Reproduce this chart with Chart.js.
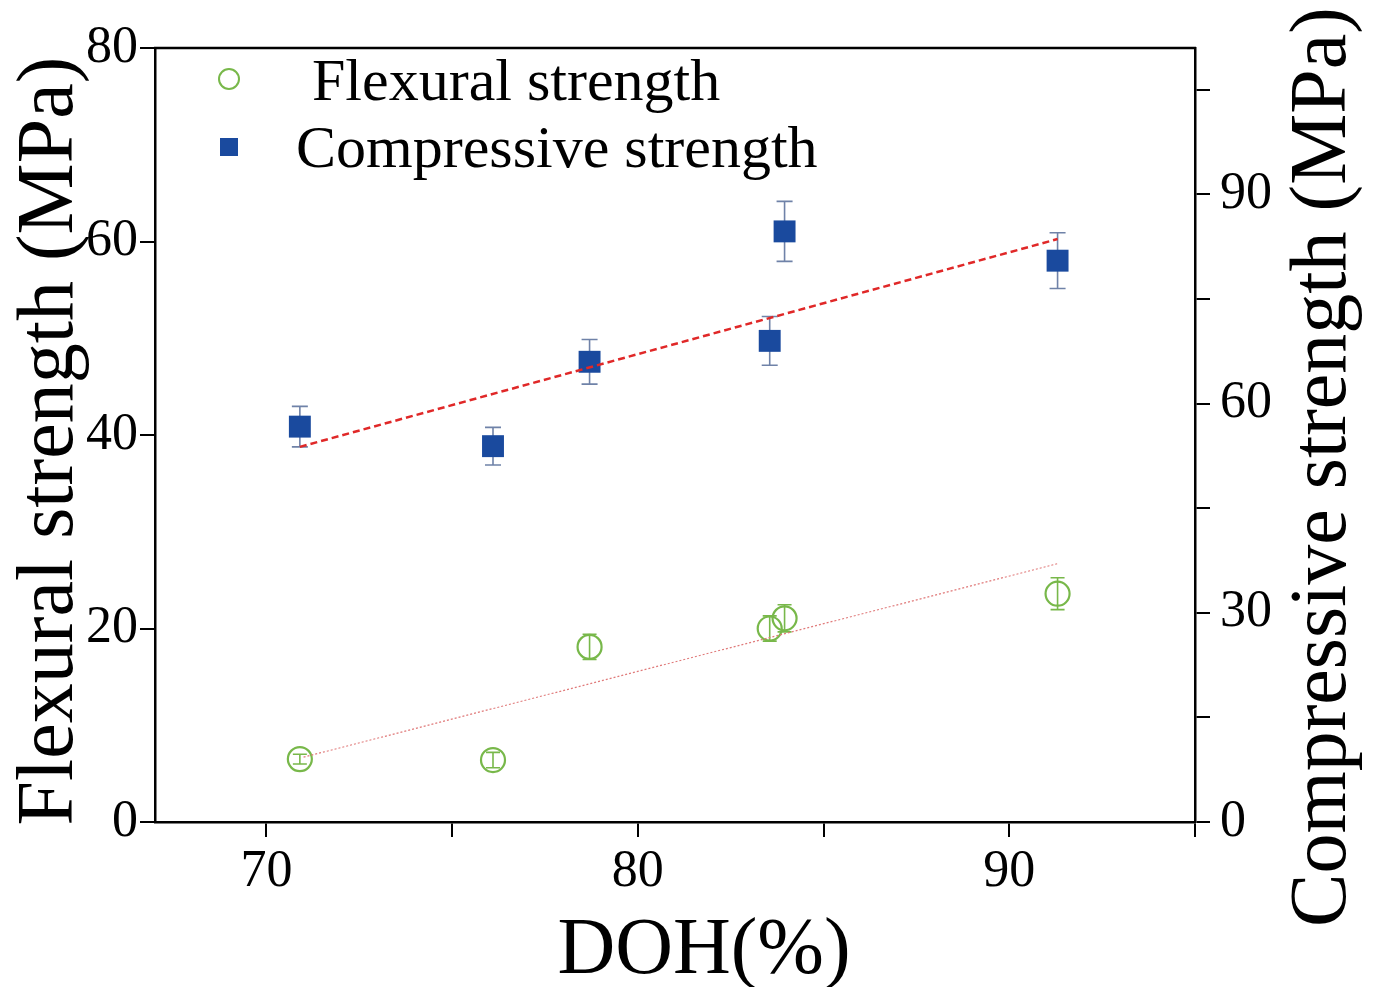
<!DOCTYPE html>
<html>
<head>
<meta charset="utf-8">
<script src="https://cdn.jsdelivr.net/npm/chart.js@4.4.1/dist/chart.umd.min.js"></script>
<style>
  body { margin: 0; background: #fff; }
  canvas { display: block; }
</style>
</head>
<body>
<canvas id="doh" width="1373" height="987"></canvas>
<script>
// -------------------- Data --------------------
const doh = [70.9, 76.1, 78.7, 83.55, 83.95, 91.3];
const flexural = [6.5, 6.4, 18.1, 20.0, 21.05, 23.6];
const flexuralErr = [0.5, 0.8, 1.3, 1.3, 1.4, 1.65];
const compressive = [56.7, 53.9, 66.0, 69.0, 84.7, 80.5];
const compressiveErr = [2.9, 2.7, 3.2, 3.5, 4.3, 4.0];

const flexFitX = [71.0, 91.3];
const flexFitY = [6.7, 26.7];
const compFitX = [70.9, 91.3];
const compFitY = [53.8, 83.6];

const xTicks = [70, 80, 90];
const leftTicks = [0, 20, 40, 60, 80];
const rightTicks = [0, 30, 60, 90];

const GREEN = '#78b84a';
const BLUE = '#1a4a9e';
const FONT = "'Liberation Serif', 'Times New Roman', serif";

const pts = (xs, ys) => xs.map((x, i) => ({ x, y: ys[i] }));

// -------------------- Plugins --------------------
const errorBars = {
  id: 'errorBars',
  beforeDatasetsDraw(chart) {
    const ctx = chart.ctx;
    const x = chart.scales.x;
    const sets = [
      { ys: flexural, err: flexuralErr, scale: chart.scales.y, color: GREEN, cap: 7 },
      { ys: compressive, err: compressiveErr, scale: chart.scales.y1, color: '#6f82a8', cap: 8 }
    ];
    ctx.save();
    ctx.lineWidth = 1.6;
    sets.forEach(s => {
      ctx.strokeStyle = s.color;
      doh.forEach((d, i) => {
        const px = x.getPixelForValue(d);
        const top = s.scale.getPixelForValue(s.ys[i] + s.err[i]);
        const bot = s.scale.getPixelForValue(s.ys[i] - s.err[i]);
        ctx.beginPath();
        ctx.moveTo(px, top); ctx.lineTo(px, bot);
        ctx.moveTo(px - s.cap, top); ctx.lineTo(px + s.cap, top);
        ctx.moveTo(px - s.cap, bot); ctx.lineTo(px + s.cap, bot);
        ctx.stroke();
      });
    });
    ctx.restore();
  }
};

const decorations = {
  id: 'decorations',
  afterDraw(chart) {
    const ctx = chart.ctx;
    const a = chart.chartArea;
    ctx.save();
    // top frame
    ctx.strokeStyle = '#000';
    ctx.lineWidth = 2.5;
    ctx.beginPath();
    ctx.moveTo(a.left - 1, a.top);
    ctx.lineTo(a.right + 1, a.top);
    ctx.stroke();

    // axis titles
    ctx.fillStyle = '#000';
    ctx.font = `80px ${FONT}`;
    ctx.textAlign = 'center';
    ctx.textBaseline = 'alphabetic';
    ctx.fillText('DOH(%)', 704, 973);

    ctx.save();
    ctx.translate(72, 441);
    ctx.rotate(-Math.PI / 2);
    ctx.fillText('Flexural strength (MPa)', 0, 0);
    ctx.restore();

    ctx.save();
    ctx.translate(1345, 467);
    ctx.rotate(-Math.PI / 2);
    ctx.fillText('Compressive strength (MPa)', 0, 0);
    ctx.restore();

    // legend
    ctx.font = `60px ${FONT}`;
    ctx.textAlign = 'left';
    ctx.strokeStyle = GREEN;
    ctx.lineWidth = 2;
    ctx.beginPath();
    ctx.arc(229, 79, 10, 0, Math.PI * 2);
    ctx.stroke();
    ctx.fillText('Flexural strength', 312, 100);

    ctx.fillStyle = BLUE;
    ctx.fillRect(220, 138, 18, 18);
    ctx.fillStyle = '#000';
    ctx.fillText('Compressive strength', 296, 167);
    ctx.restore();
  }
};

// -------------------- Chart --------------------
const tickFont = { family: FONT, size: 52 };

new Chart(document.getElementById('doh'), {
  type: 'scatter',
  data: {
    datasets: [
      {
        label: 'Flexural fit',
        data: pts(flexFitX, flexFitY),
        yAxisID: 'y',
        showLine: true,
        borderColor: '#e07a7a',
        borderWidth: 1.2,
        borderDash: [2, 2],
        pointRadius: 0
      },
      {
        label: 'Compressive fit',
        data: pts(compFitX, compFitY),
        yAxisID: 'y1',
        showLine: true,
        borderColor: '#e02828',
        borderWidth: 2.5,
        borderDash: [7, 4],
        pointRadius: 0
      },
      {
        label: 'Flexural strength',
        data: pts(doh, flexural),
        yAxisID: 'y',
        pointStyle: 'circle',
        pointRadius: 12,
        borderColor: GREEN,
        borderWidth: 2.2,
        backgroundColor: 'rgba(0,0,0,0)'
      },
      {
        label: 'Compressive strength',
        data: pts(doh, compressive),
        yAxisID: 'y1',
        pointStyle: 'rect',
        pointRadius: 15.5,
        borderWidth: 0,
        backgroundColor: BLUE
      }
    ]
  },
  options: {
    responsive: false,
    animation: false,
    layout: { padding: { top: 48, left: 0, right: 0, bottom: 0 } },
    plugins: {
      legend: { display: false },
      tooltip: { enabled: false }
    },
    scales: {
      x: {
        type: 'linear',
        position: 'bottom',
        min: 67,
        max: 95,
        afterFit: s => { s.height = 165; },
        grid: { drawOnChartArea: false, drawTicks: true, tickLength: 15, color: '#000', lineWidth: 2 },
        border: { color: '#000', width: 2.5 },
        ticks: {
          stepSize: 5,
          includeBounds: false,
          autoSkip: false,
          maxRotation: 0,
          padding: 4,
          color: '#000',
          font: tickFont,
          callback: v => xTicks.includes(v) ? v : ''
        }
      },
      y: {
        position: 'left',
        min: 0,
        max: 80,
        afterFit: s => { s.width = 155; },
        grid: { drawOnChartArea: false, drawTicks: true, tickLength: 15, color: '#000', lineWidth: 2 },
        border: { color: '#000', width: 2.5 },
        ticks: {
          stepSize: 20,
          autoSkip: false,
          padding: 2,
          color: '#000',
          font: tickFont,
          callback: v => leftTicks.includes(v) ? v : ''
        }
      },
      y1: {
        position: 'right',
        min: 0,
        max: 111,
        afterFit: s => { s.width = 178; },
        grid: { drawOnChartArea: false, drawTicks: true, tickLength: 15, color: '#000', lineWidth: 2 },
        border: { color: '#000', width: 2.5 },
        ticks: {
          stepSize: 15,
          includeBounds: false,
          autoSkip: false,
          padding: 10,
          color: '#000',
          font: tickFont,
          callback: v => rightTicks.includes(v) ? v : ''
        }
      }
    }
  },
  plugins: [errorBars, decorations]
});
</script>
</body>
</html>
